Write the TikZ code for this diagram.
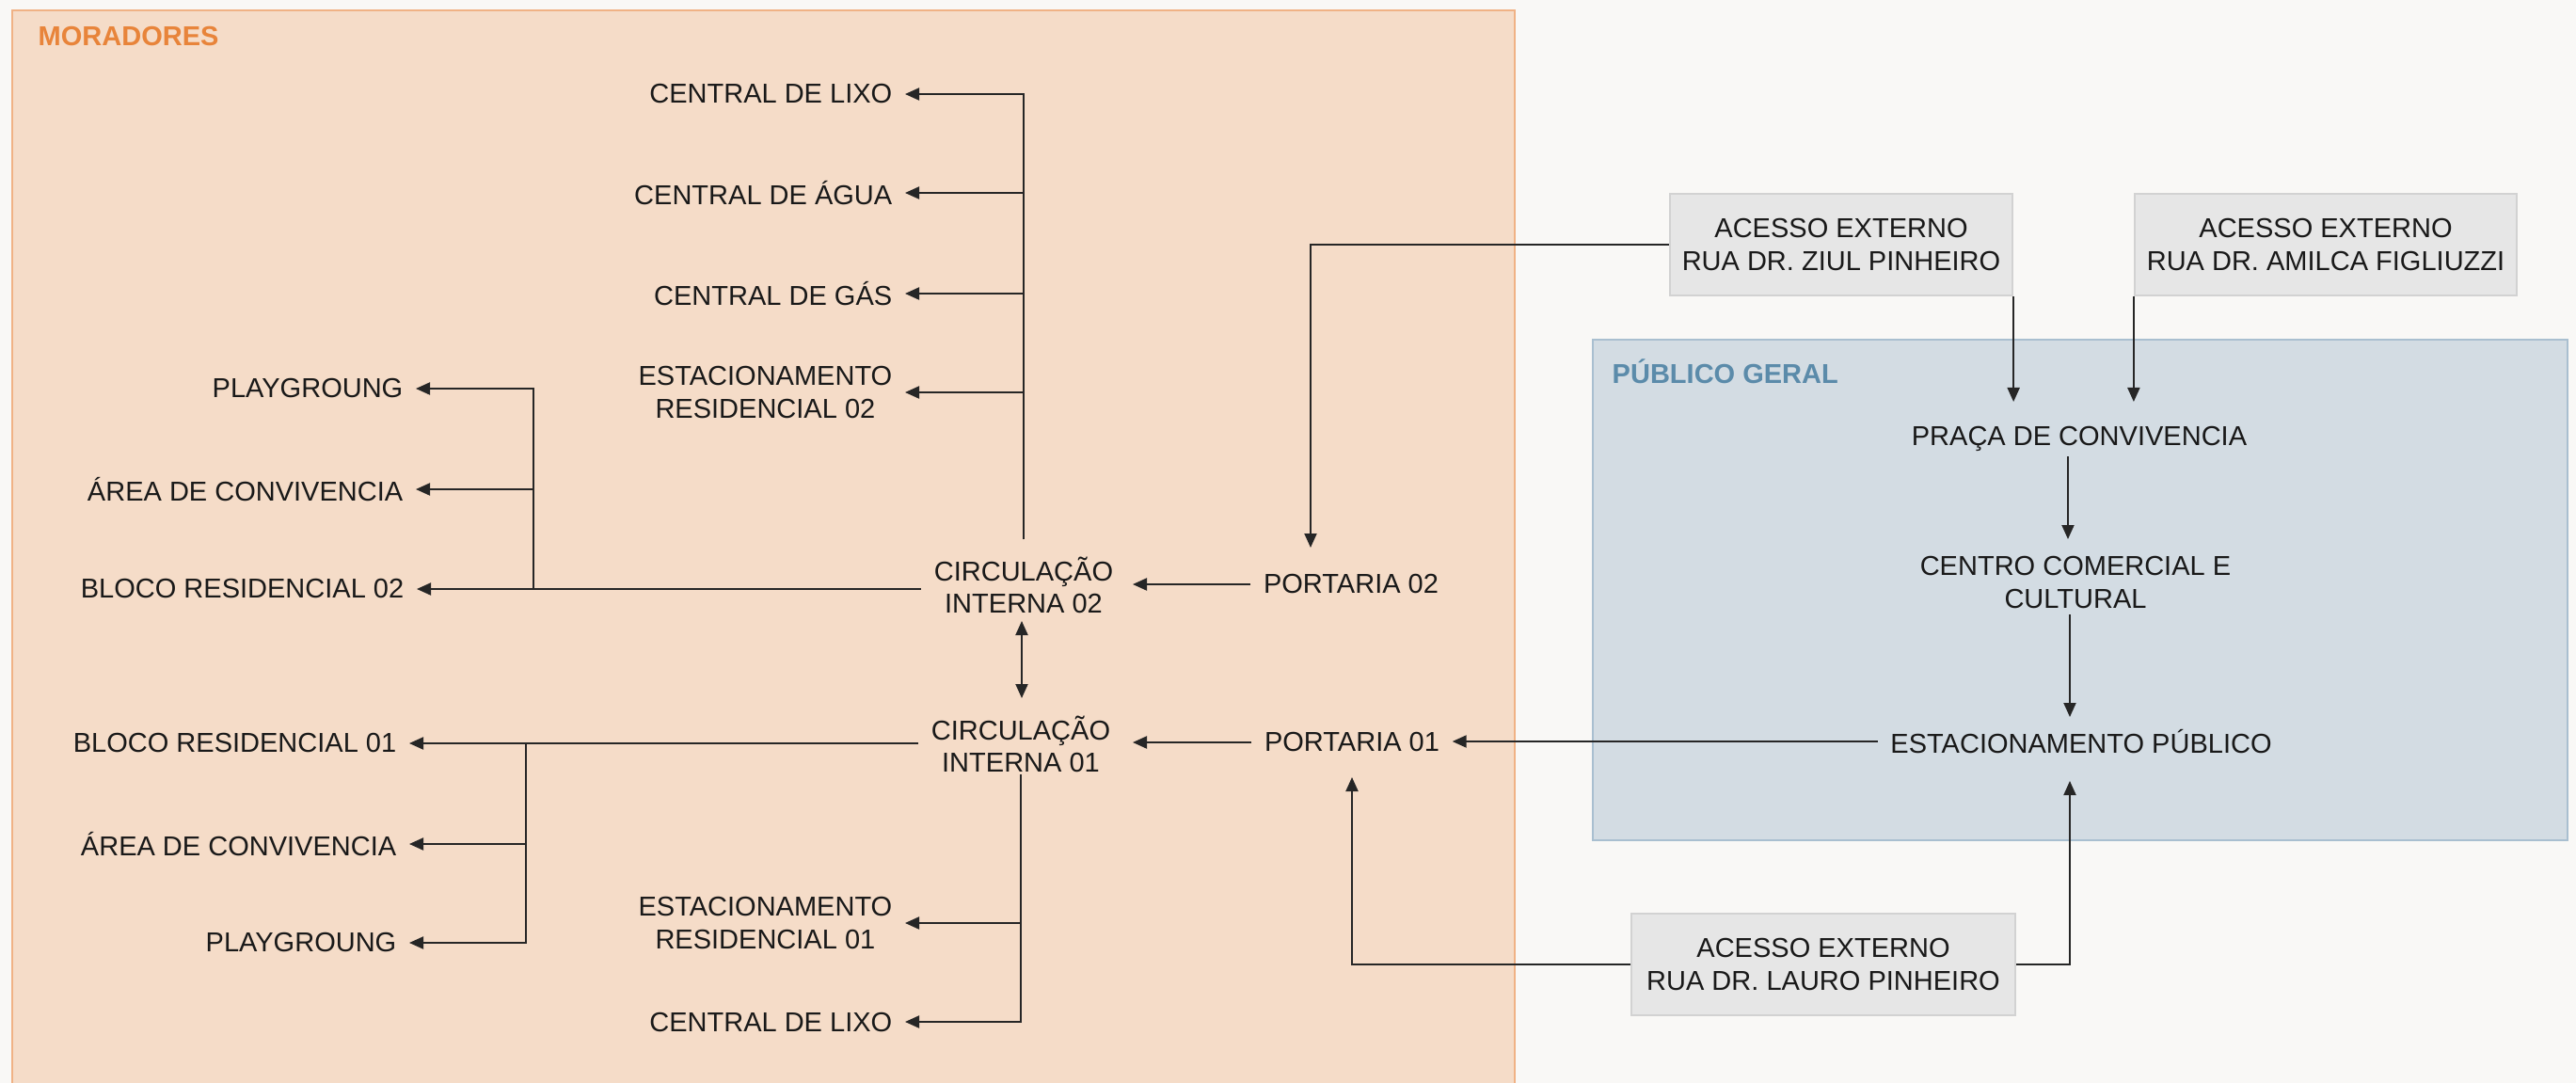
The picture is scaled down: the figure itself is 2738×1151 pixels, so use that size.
\documentclass[tikz,border=0pt]{standalone}
\usepackage{fontspec}
\setmainfont{Liberation Sans}
\usepackage{xcolor}
\usetikzlibrary{arrows.meta,calc,positioning}

\definecolor{fundo}{HTML}{F9F8F6}
\definecolor{morfill}{HTML}{F5DCC8}
\definecolor{morline}{HTML}{F0B285}
\definecolor{mortxt}{HTML}{E8843A}
\definecolor{pubfill}{HTML}{D3DCE3}
\definecolor{publine}{HTML}{A9BFD0}
\definecolor{pubtxt}{HTML}{5B8BAA}
\definecolor{acfill}{HTML}{E6E6E6}
\definecolor{acline}{HTML}{D2D2D2}

\tikzset{
  rotulo/.style={font=\fontsize{8.25pt}{9.7pt}\selectfont, text=black!90, align=center, inner xsep=0.13cm, inner ysep=0cm},
  acesso/.style={rotulo, fill=acfill, draw=acline, line width=0.5pt, minimum height=1.08cm},
  titulo/.style={font=\fontsize{8.25pt}{9.7pt}\selectfont\bfseries, anchor=west, inner sep=0},
  liga/.style={draw=black!85, line width=0.55pt},
}

\begin{document}
\begin{tikzpicture}[x=0.01cm, y=-0.01cm, >={Triangle[length=0.15cm,width=0.13cm]}]
    \fill[fundo] (0,0) rectangle (2738,1151);
    \useasboundingbox (0,0) rectangle (2738,1151);

    % areas
    \filldraw[fill=morfill, draw=morline, line width=0.6pt] (13,11) rectangle (1610,1170);
    \filldraw[fill=pubfill, draw=publine, line width=0.6pt] (1693,361) rectangle (2729,893);
    \node[titulo, text=mortxt] (moradores) at (40,39) {MORADORES};
    \node[titulo, text=pubtxt] (publico) at (1713,395) {PÚBLICO GERAL};

    % moradores, bloco 02
    \node[rotulo, anchor=east] (lixo2) at (962,100) {CENTRAL DE LIXO};
    \node[rotulo, anchor=east] (agua) at (962,205) {CENTRAL DE ÁGUA};
    \node[rotulo, anchor=east] (gas) at (962,312) {CENTRAL DE GÁS};
    \node[rotulo, anchor=east] (estres2) at (962,417) {ESTACIONAMENTO\\RESIDENCIAL 02};
    \node[rotulo, anchor=east] (play2) at (442,413) {PLAYGROUNG};
    \node[rotulo, anchor=east] (area2) at (442,520) {ÁREA DE CONVIVENCIA};
    \node[rotulo, anchor=east] (bloco2) at (443,626) {BLOCO RESIDENCIAL 02};
    \node[rotulo] (circ2) at (1088,622) {CIRCULAÇÃO\\INTERNA 02};
    \node[rotulo] (port2) at (1436,621) {PORTARIA 02};

    % moradores, bloco 01
    \node[rotulo] (circ1) at (1085,791) {CIRCULAÇÃO\\INTERNA 01};
    \node[rotulo] (port1) at (1437,789) {PORTARIA 01};
    \node[rotulo, anchor=east] (bloco1) at (435,790) {BLOCO RESIDENCIAL 01};
    \node[rotulo, anchor=east] (area1) at (435,897) {ÁREA DE CONVIVENCIA};
    \node[rotulo, anchor=east] (play1) at (435,1002) {PLAYGROUNG};
    \node[rotulo, anchor=east] (estres1) at (962,981) {ESTACIONAMENTO\\RESIDENCIAL 01};
    \node[rotulo, anchor=east] (lixo1) at (962,1086) {CENTRAL DE LIXO};

    % publico geral
    \node[rotulo] (praca) at (2210,466) {PRAÇA DE CONVIVENCIA};
    \node[rotulo] (centro) at (2206,619) {CENTRO COMERCIAL E\\CULTURAL};
    \node[rotulo] (estpub) at (2212,788) {ESTACIONAMENTO PÚBLICO};

    % acessos
    \node[acesso, minimum width=3.57cm] (ziul) at (1957,260) {ACESSO EXTERNO\\RUA DR. ZIUL PINHEIRO};
    \node[acesso, minimum width=3.99cm] (amilca) at (2472,260) {ACESSO EXTERNO\\RUA DR. AMILCA FIGLIUZZI};
    \node[acesso, minimum width=4.08cm] (lauro) at (1938,1025) {ACESSO EXTERNO\\RUA DR. LAURO PINHEIRO};

    % ligacoes
    \coordinate (j2) at ($(bloco2.east)+(124,0)$);
    \coordinate (j1) at ($(bloco1.east)+(124,0)$);
    \draw[liga,->] ($(circ2)+(0,-49)$) |- (lixo2.east);
    \draw[liga,->] ($(circ2)+(0,-49)$) |- (agua.east);
    \draw[liga,->] ($(circ2)+(0,-49)$) |- (gas.east);
    \draw[liga,->] ($(circ2)+(0,-49)$) |- (estres2.east);
    \draw[liga,->] (circ2.west |- bloco2) -- (bloco2.east);
    \draw[liga,->] (j2) |- (area2.east);
    \draw[liga,->] (j2) |- (play2.east);
    \draw[liga,->] (port2.west) -- ($(circ2 |- port2)+(116,0)$);
    \draw[liga,->] (ziul.west) -| ($(port2)+(-43,-39)$);
    \draw[liga,<->] ($(circ2)+(-2,38)$) -- ($(circ1)+(1,-49)$);
    \draw[liga,->] (port1.west) -- ($(circ1 |- port1)+(119,0)$);
    \draw[liga,->] (circ1.west |- bloco1) -- (bloco1.east);
    \draw[liga,->] (j1) |- (area1.east);
    \draw[liga,->] (j1) |- (play1.east);
    \draw[liga,->] ($(circ1)+(0,32)$) |- (estres1.east);
    \draw[liga,->] ($(circ1)+(0,32)$) |- (lixo1.east);

    \draw[liga,->] (ziul.south east) -- ($(ziul.south east |- praca)+(0,-39)$);
    \draw[liga,->] (amilca.south west) -- ($(amilca.south west |- praca)+(0,-39)$);
    \draw[liga,->] ($(praca)+(-12,19)$) -- ($(praca |- centro)+(-12,-46)$);
    \draw[liga,->] ($(centro)+(-6,34)$) -- ($(centro |- estpub)+(-6,-26)$);
    \draw[liga,->] (estpub.west) -- (port1.east |- estpub.west);
    \draw[liga,->] (lauro.west) -| ($(port1)+(0,37)$);
    \draw[liga,->] (lauro.east) -| ($(estpub)+(-12,42)$);
\end{tikzpicture}
\end{document}
